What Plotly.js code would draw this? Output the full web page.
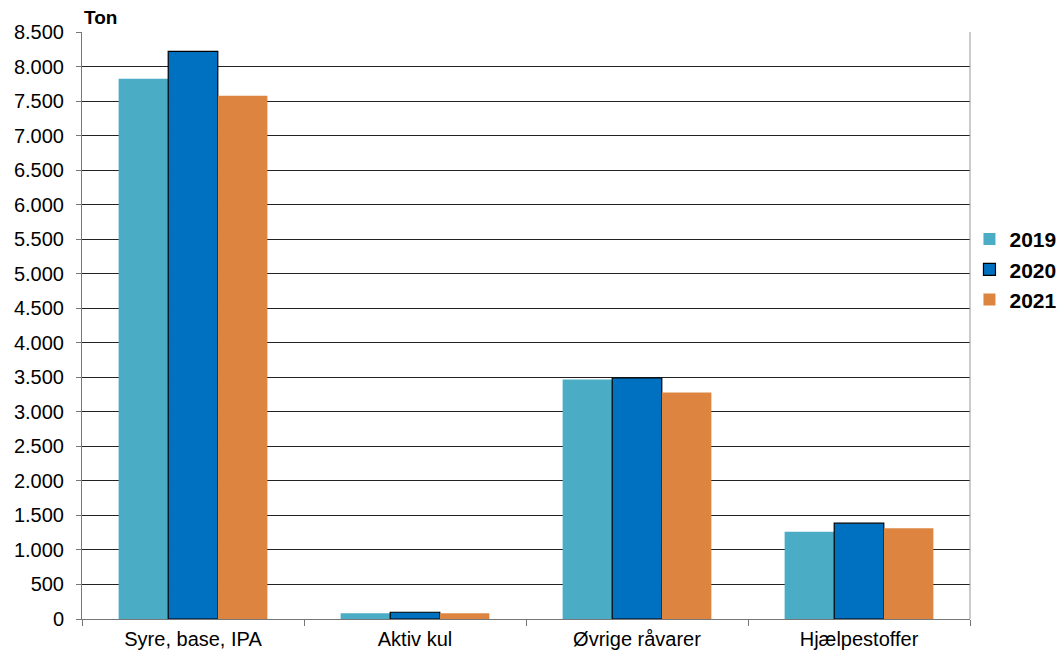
<!DOCTYPE html>
<html>
<head>
<meta charset="utf-8">
<script src="https://cdn.plot.ly/plotly-3.0.1.min.js"></script>
<style>html,body{margin:0;padding:0;background:#fff;}#chart{width:1063px;height:657px;}</style>
</head>
<body>
<div id="chart"></div>
<script>
const categories = ["Syre, base, IPA", "Aktiv kul", "Øvrige råvarer", "Hjælpestoffer"];
const years = ["2019", "2020", "2021"];
const values2019 = [7823, 83, 3467, 1265];
const values2020 = [8220, 98, 3490, 1388];
const values2021 = [7578, 83, 3279, 1314];
const yTicks = [0, 500, 1000, 1500, 2000, 2500, 3000, 3500, 4000, 4500, 5000, 5500, 6000, 6500, 7000, 7500, 8000, 8500];

const colors = ["#4BACC6", "#0070C0", "#DD8440"];
const lines = [{width: 0}, {width: 1.2, color: "#000"}, {width: 0}];
const series = [values2019, values2020, values2021];

const traces = series.map((v, i) => ({
  type: "bar",
  name: years[i],
  x: categories,
  y: v,
  marker: {color: colors[i], line: lines[i]}
}));

const layout = {
  width: 1063, height: 657,
  margin: {l: 82, r: 93, t: 32, b: 38, autoexpand: false},
  paper_bgcolor: "#fff", plot_bgcolor: "#fff",
  font: {family: "Liberation Sans, Arial, sans-serif", size: 20, color: "#000"},
  separators: ",.",
  barmode: "group",
  bargap: 0.33,
  bargroupgap: 0,
  showlegend: true,
  legend: {
    xref: "container", yref: "container",
    x: 0.912, y: 0.59, xanchor: "left", yanchor: "middle",
    font: {size: 21, color: "#000", family: "Liberation Sans, Arial, sans-serif", weight: "bold"},
    itemwidth: 30, bgcolor: "rgba(0,0,0,0)"
  },
  xaxis: {
    type: "category",
    tickson: "boundaries",
    ticks: "outside", ticklen: 6, tickcolor: "#777",
    showline: true, linecolor: "#777", linewidth: 1,
    showgrid: false,
    tickfont: {size: 20},
    ticklabelstandoff: 2,
    automargin: false
  },
  yaxis: {
    range: [0, 8500],
    tickvals: yTicks,
    tickformat: ",d",
    ticks: "outside", ticklen: 5, tickcolor: "#777",
    showline: true, linecolor: "#777", linewidth: 1,
    showgrid: true, gridcolor: "#222", gridwidth: 1,
    zeroline: false,
    tickfont: {size: 20},
    ticklabelstandoff: 8,
    automargin: false
  },
  shapes: [
    {type: "line", xref: "paper", yref: "paper", x0: 1, x1: 1, y0: 0, y1: 1, line: {color: "#999", width: 1}}
  ],
  annotations: [
    {text: "<b>Ton</b>", xref: "paper", yref: "paper", x: 0, y: 1, xanchor: "left", yanchor: "bottom", yshift: 2, showarrow: false, font: {size: 19, color: "#000"}}
  ]
};

Plotly.newPlot("chart", traces, layout, {displayModeBar: false, staticPlot: true});
</script>
</body>
</html>
